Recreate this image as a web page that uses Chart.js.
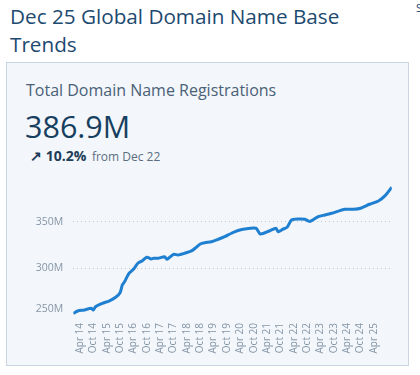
<!DOCTYPE html>
<html>
<head>
<meta charset="utf-8">
<script src="https://cdn.jsdelivr.net/npm/chart.js@4"></script>
<style>
  html, body { margin: 0; padding: 0; background: #ffffff; width: 420px; height: 375px; overflow: hidden; position: relative; font-family: "Open Sans", "Noto Sans", sans-serif; }
  #title { position: absolute; left: 10px; top: 2px; width: 400px; font-size: 20.7px; line-height: 28px; color: #1d4a70; font-weight: 400; }
  #frag { position: absolute; left: 416px; top: 0px; font-size: 11px; color: #1d4a70; }
  #card { position: absolute; left: 6px; top: 62px; width: 401px; height: 302px; border: 1px solid #c9d5e1; background: #f3f6fa; }
  #sub { position: absolute; left: 26px; top: 79px; font-size: 16px; color: #4a6177; }
  #big { position: absolute; left: 25px; top: 105px; font-size: 30.5px; color: #173f5f; }
  #chg { position: absolute; left: 30px; top: 146px; font-size: 14px; color: #1d3d58; }
  #chg b { font-weight: 700; }
  #chg span { font-size: 12px; color: #5b6e80; margin-left: 2px; }
  #wrap { position: absolute; left: 7px; top: 175px; width: 400px; height: 190px; }
</style>
</head>
<body>
<div id="title">Dec 25 Global Domain Name Base Trends</div>
<div id="frag">S</div>
<div id="card"></div>
<div id="sub">Total Domain Name Registrations</div>
<div id="big">386.9M</div>
<div id="chg"><b>&#8599; 10.2%</b> <span>from Dec 22</span></div>
<div id="wrap"><canvas id="c" width="400" height="190"></canvas></div>
<script>
const pointMonths = ['Jan 14','Mar 14','Jun 14','Sep 14','Oct 14','Nov 14','Feb 15','May 15','Aug 15','Oct 15','Nov 15','Dec 15',
  'Feb 16','Apr 16','Jun 16','Aug 16','Oct 16','Dec 16','Jan 17','Mar 17','Jun 17','Jul 17','Oct 17','Dec 17',
  'Mar 18','Jun 18','Aug 18','Oct 18','Dec 18','Mar 19','Jun 19','Sep 19','Dec 19','Mar 20','Jun 20','Nov 20',
  'Jan 21','May 21','Aug 21','Sep 21','Nov 21','Jan 22','Mar 22','Jun 22','Sep 22','Nov 22','Dec 22','Mar 23',
  'Jun 23','Sep 23','Mar 24','Jul 24','Oct 24','Feb 25','Jun 25','Sep 25','Dec 25'];
const registrationsM = [251.6,254.2,255.3,257.1,255.3,258.8,262.4,264.9,268.9,273.8,282.1,285.6,
  294.6,298.9,305.4,308.2,311.8,310.0,310.7,310.7,312.4,309.7,315.0,314.3,
  316.1,318.6,322.1,326.1,327.5,328.5,331.1,333.9,337.6,340.5,342.2,342.9,
  336.8,340.0,342.9,339.3,341.8,344.0,351.8,352.9,352.6,350.3,351.1,355.4,
  357.2,359.0,363.3,363.3,364.4,368.7,372.2,377.9,386.9];
const xTickLabels = ['Apr 14','Oct 14','Apr 15','Oct 15','Apr 16','Oct 16','Apr 17','Oct 17','Apr 18','Oct 18','Apr 19','Oct 19',
  'Apr 20','Oct 20','Apr 21','Oct 21','Apr 22','Oct 22','Apr 23','Oct 23','Apr 24','Oct 24','Apr 25'];
const yTickValues = [250, 300, 350];
const yTickLabels = ['250M', '300M', '350M'];

const MON = ['Jan','Feb','Mar','Apr','May','Jun','Jul','Aug','Sep','Oct','Nov','Dec'];
function monthIndex(s) {
  const [m, y] = s.split(' ');
  return (parseInt(y, 10) - 14) * 12 + MON.indexOf(m);
}
const points = pointMonths.map((m, i) => ({ x: monthIndex(m), y: registrationsM[i] }));
const xTickValues = xTickLabels.map(monthIndex);

new Chart(document.getElementById('c'), {
  type: 'line',
  data: { datasets: [{ data: points, borderColor: '#1f7fd1', borderWidth: 3, pointRadius: 0, tension: 0.25, fill: false }] },
  options: {
    responsive: false, animation: false,
    plugins: { legend: { display: false }, tooltip: { enabled: false } },
    layout: { padding: { top: 5, right: 15.2, bottom: 0, left: 0 } },
    scales: {
      x: {
        type: 'linear', min: 0, max: 143,
        grid: { display: false, drawTicks: false },
        border: { display: false },
        afterBuildTicks: s => { s.ticks = xTickValues.map(v => ({ value: v })); },
        afterFit: s => { s.height = 47; s.paddingLeft = 0; s.paddingRight = 0; },
        ticks: {
          autoSkip: false, minRotation: 90, maxRotation: 90, padding: 5,
          color: '#8596a7', font: { family: '"Open Sans", sans-serif', size: 10 },
          callback: v => xTickLabels[xTickValues.indexOf(v)]
        }
      },
      y: {
        min: 246.7, max: 394.7,
        border: { display: false, dash: [1, 3] },
        grid: { drawTicks: false, color: c => c.tick && c.tick.value === 250 ? 'rgba(0,0,0,0)' : '#bfc9d3', lineWidth: 1 },
        afterBuildTicks: s => { s.ticks = yTickValues.map(v => ({ value: v })); },
        afterFit: s => { s.width = 66.3; s.paddingTop = 0; s.paddingBottom = 0; },
        ticks: {
          padding: 10, color: '#8596a7', font: { family: '"Open Sans", sans-serif', size: 10.5, lineHeight: 1.2 },
          callback: v => { const l = yTickLabels[yTickValues.indexOf(v)]; return v === 250 ? [l, ''] : l; }
        }
      }
    }
  }
});
</script>
</body>
</html>
